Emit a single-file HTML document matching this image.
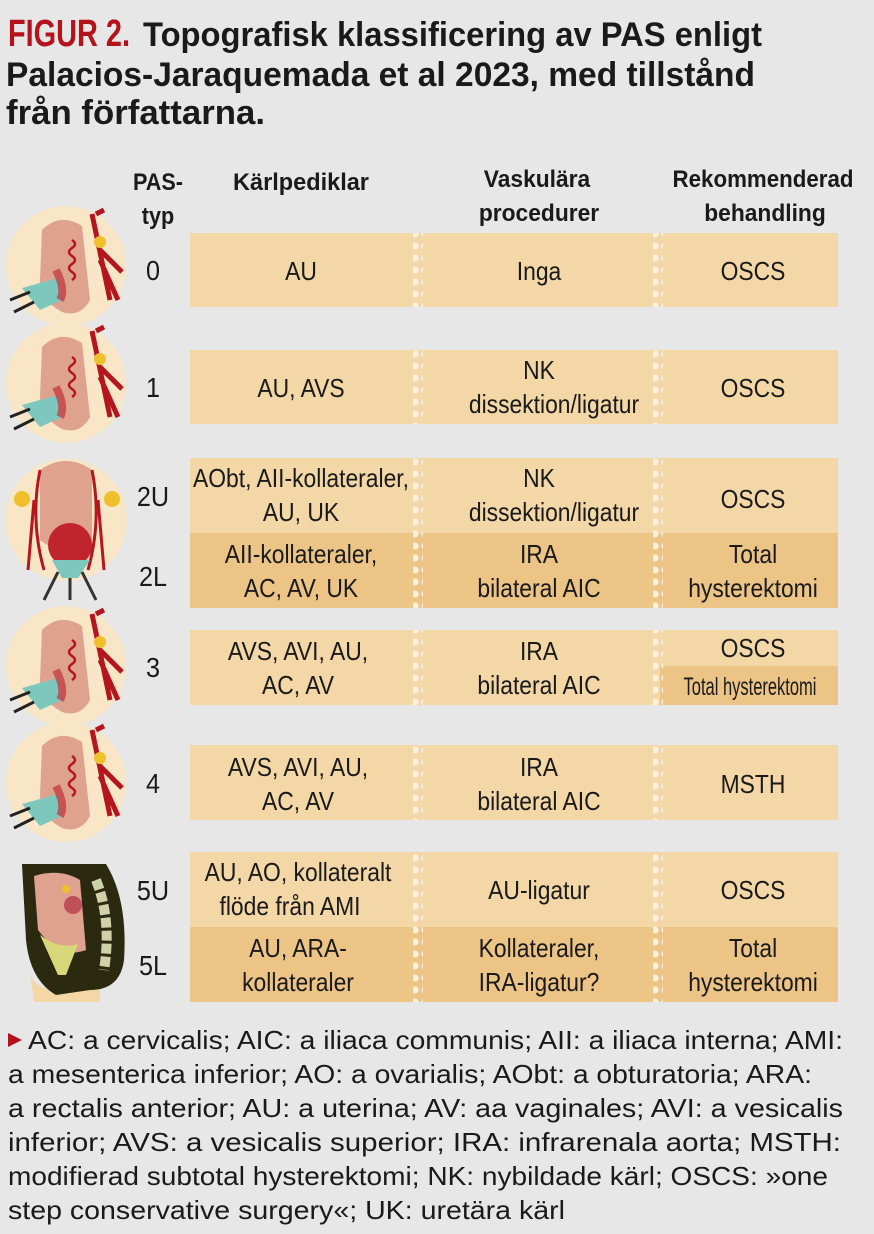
<!DOCTYPE html>
<html><head><meta charset="utf-8"><style>
html,body{margin:0;padding:0;background:#e7e7e7}
svg{display:block}
text{font-family:"Liberation Sans",sans-serif;fill:#1a1a1a}
.c{font-size:26px;text-anchor:middle}
.h{font-size:24px;font-weight:bold;text-anchor:middle}
.f{font-size:26px}
</style></head><body>
<svg width="874" height="1234" viewBox="0 0 874 1234" xmlns="http://www.w3.org/2000/svg">
<rect width="874" height="1234" fill="#e7e7e7"/>
<text x="8" y="46" font-size="38" font-weight="bold" style="fill:#b5121b" textLength="122" lengthAdjust="spacingAndGlyphs">FIGUR 2.</text>
<text x="143" y="46" font-size="34" font-weight="bold" textLength="619" lengthAdjust="spacingAndGlyphs">Topografisk klassificering av PAS enligt</text>
<text x="6" y="86" font-size="34" font-weight="bold" textLength="749" lengthAdjust="spacingAndGlyphs">Palacios-Jaraquemada et al 2023, med tillstånd</text>
<text x="6" y="124" font-size="34" font-weight="bold" textLength="259" lengthAdjust="spacingAndGlyphs">från författarna.</text>
<g transform="translate(158 190) scale(.9 1)"><text class="h">PAS-</text></g>
<g transform="translate(158 224) scale(.9 1)"><text class="h">typ</text></g>
<g transform="translate(301 190) scale(.98 1)"><text class="h">Kärlpediklar</text></g>
<g transform="translate(537 187) scale(.95 1)"><text class="h">Vaskulära</text></g>
<g transform="translate(539 221) scale(.95 1)"><text class="h">procedurer</text></g>
<g transform="translate(763 187) scale(.93 1)"><text class="h">Rekommenderad</text></g>
<g transform="translate(765 221) scale(.95 1)"><text class="h">behandling</text></g>
<g>
<rect x="190" y="233" width="648" height="74" fill="#f3d7a6"/>
<rect x="190" y="350" width="648" height="74" fill="#f3d7a6"/>
<rect x="190" y="458" width="648" height="75" fill="#f3d7a6"/>
<rect x="190" y="533" width="648" height="75" fill="#ecc486"/>
<rect x="190" y="630" width="648" height="75" fill="#f3d7a6"/>
<rect x="660" y="666" width="178" height="39" fill="#ecc486"/>
<rect x="190" y="745" width="648" height="75" fill="#f3d7a6"/>
<rect x="190" y="852" width="648" height="75" fill="#f3d7a6"/>
<rect x="190" y="927" width="648" height="75" fill="#ecc486"/>
</g>
<defs><pattern id="dots" width="10" height="12" patternUnits="userSpaceOnUse"><circle cx="5" cy="6" r="3.6" fill="#fbf1e0"/></pattern></defs>
<g fill="url(#dots)">
<rect x="413" y="233" width="10" height="74"/><rect x="653" y="233" width="10" height="74"/>
<rect x="413" y="350" width="10" height="74"/><rect x="653" y="350" width="10" height="74"/>
<rect x="413" y="458" width="10" height="150"/><rect x="653" y="458" width="10" height="150"/>
<rect x="413" y="630" width="10" height="75"/><rect x="653" y="630" width="10" height="75"/>
<rect x="413" y="745" width="10" height="75"/><rect x="653" y="745" width="10" height="75"/>
<rect x="413" y="852" width="10" height="150"/><rect x="653" y="852" width="10" height="150"/>
</g>
<g transform="translate(153 280) scale(.9 1)"><text class="c" style="font-size:28px">0</text></g>
<g transform="translate(153 397) scale(.9 1)"><text class="c" style="font-size:28px">1</text></g>
<g transform="translate(153 506) scale(.9 1)"><text class="c" style="font-size:28px">2U</text></g>
<g transform="translate(153 586) scale(.9 1)"><text class="c" style="font-size:28px">2L</text></g>
<g transform="translate(153 677) scale(.9 1)"><text class="c" style="font-size:28px">3</text></g>
<g transform="translate(153 793) scale(.9 1)"><text class="c" style="font-size:28px">4</text></g>
<g transform="translate(153 900) scale(.9 1)"><text class="c" style="font-size:28px">5U</text></g>
<g transform="translate(153 975) scale(.9 1)"><text class="c" style="font-size:28px">5L</text></g>
<g transform="translate(301 280) scale(.88 1)"><text class="c">AU</text></g>
<g transform="translate(539 280) scale(.88 1)"><text class="c">Inga</text></g>
<g transform="translate(753 280) scale(.88 1)"><text class="c">OSCS</text></g>
<g transform="translate(301 397) scale(.88 1)"><text class="c">AU, AVS</text></g>
<g transform="translate(539 379) scale(.88 1)"><text class="c">NK</text></g>
<g transform="translate(554 413) scale(.88 1)"><text class="c">dissektion/ligatur</text></g>
<g transform="translate(753 397) scale(.88 1)"><text class="c">OSCS</text></g>
<g transform="translate(301 487) scale(.88 1)"><text class="c">AObt, AII-kollateraler,</text></g>
<g transform="translate(301 521) scale(.88 1)"><text class="c">AU, UK</text></g>
<g transform="translate(539 487) scale(.88 1)"><text class="c">NK</text></g>
<g transform="translate(554 521) scale(.88 1)"><text class="c">dissektion/ligatur</text></g>
<g transform="translate(753 508) scale(.88 1)"><text class="c">OSCS</text></g>
<g transform="translate(301 563) scale(.88 1)"><text class="c">AII-kollateraler,</text></g>
<g transform="translate(301 597) scale(.88 1)"><text class="c">AC, AV, UK</text></g>
<g transform="translate(539 563) scale(.88 1)"><text class="c">IRA</text></g>
<g transform="translate(539 597) scale(.88 1)"><text class="c">bilateral AIC</text></g>
<g transform="translate(753 563) scale(.88 1)"><text class="c">Total</text></g>
<g transform="translate(753 597) scale(.88 1)"><text class="c">hysterektomi</text></g>
<g transform="translate(298 660) scale(.88 1)"><text class="c">AVS, AVI, AU,</text></g>
<g transform="translate(298 694) scale(.88 1)"><text class="c">AC, AV</text></g>
<g transform="translate(539 660) scale(.88 1)"><text class="c">IRA</text></g>
<g transform="translate(539 694) scale(.88 1)"><text class="c">bilateral AIC</text></g>
<g transform="translate(753 657) scale(.88 1)"><text class="c">OSCS</text></g>
<g transform="translate(750 695) scale(.66 1)"><text class="c" style="font-size:25px">Total hysterektomi</text></g>
<g transform="translate(298 776) scale(.88 1)"><text class="c">AVS, AVI, AU,</text></g>
<g transform="translate(298 810) scale(.88 1)"><text class="c">AC, AV</text></g>
<g transform="translate(539 776) scale(.88 1)"><text class="c">IRA</text></g>
<g transform="translate(539 810) scale(.88 1)"><text class="c">bilateral AIC</text></g>
<g transform="translate(753 793) scale(.88 1)"><text class="c">MSTH</text></g>
<g transform="translate(298 881) scale(.88 1)"><text class="c">AU, AO, kollateralt</text></g>
<g transform="translate(290 915) scale(.88 1)"><text class="c">flöde från AMI</text></g>
<g transform="translate(539 899) scale(.88 1)"><text class="c">AU-ligatur</text></g>
<g transform="translate(753 899) scale(.88 1)"><text class="c">OSCS</text></g>
<g transform="translate(298 957) scale(.88 1)"><text class="c">AU, ARA-</text></g>
<g transform="translate(298 991) scale(.88 1)"><text class="c">kollateraler</text></g>
<g transform="translate(539 957) scale(.88 1)"><text class="c">Kollateraler,</text></g>
<g transform="translate(539 991) scale(.88 1)"><text class="c">IRA-ligatur?</text></g>
<g transform="translate(753 957) scale(.88 1)"><text class="c">Total</text></g>
<g transform="translate(753 991) scale(.88 1)"><text class="c">hysterektomi</text></g>

<g id="ill">
<circle cx="66" cy="266" r="60" fill="#f8e6c6"/>
<path d="M42 230 Q60 212 82 226 L90 300 Q80 318 62 312 Q40 300 40 280 Z" fill="#dea28e"/>
<path d="M92 214 L110 300 M96 214 L104 210 M100 250 L122 272 M100 260 L118 300" stroke="#b5161e" stroke-width="5" fill="none"/>
<path d="M72 240 q6 4 0 8 q-6 4 0 8 q6 4 0 8 q-6 4 0 8 q6 4 0 8" stroke="#b5161e" stroke-width="2.5" fill="none"/>
<circle cx="100" cy="242" r="6" fill="#f0c02c"/>
<path d="M22 288 L58 278 L62 300 L40 310 Z" fill="#7ec7bd"/>
<path d="M10 300 L30 292 M14 312 L34 302" stroke="#222" stroke-width="3"/>
<path d="M56 270 Q66 290 60 300" stroke="#c0323a" stroke-width="8" fill="none" opacity=".7"/>
</g>
<use href="#ill" transform="translate(0 117)"/>
<use href="#ill" transform="translate(0 400)"/>
<use href="#ill" transform="translate(0 516)"/>
<circle cx="66" cy="520" r="61" fill="#f8e6c6"/>
<path d="M40 470 Q66 452 92 470 L92 540 Q66 560 40 540 Z" fill="#dea28e"/>
<path d="M40 470 Q30 520 44 570 M92 470 Q102 520 88 570 M34 500 L28 570 M98 500 L104 570" stroke="#b5161e" stroke-width="3" fill="none"/>
<circle cx="22" cy="499" r="8" fill="#f0c02c"/><circle cx="112" cy="499" r="8" fill="#f0c02c"/>
<circle cx="70" cy="545" r="22" fill="#c0242c"/>
<path d="M52 560 L90 560 L78 578 L62 578 Z" fill="#7ec7bd"/>
<path d="M58 572 L44 600 M70 578 L70 600 M82 572 L96 600" stroke="#333" stroke-width="3"/>
<path d="M30 975 Q40 1000 100 985 L100 1002 L34 1002 Z" fill="#f3d7a6"/>
<path d="M22 864 L106 864 Q128 900 124 960 Q120 990 90 990 L56 995 Q30 980 26 940 Z" fill="#2b2a10"/>
<path d="M34 876 Q60 868 80 880 L86 950 Q60 960 38 930 Z" fill="#dea28e"/>
<path d="M40 935 Q60 950 78 944 L66 975 L58 975 Z" fill="#d8d87a"/>
<path d="M96 880 Q112 920 104 970" stroke="#cfd1a8" stroke-width="10" fill="none" stroke-dasharray="10 3"/>
<circle cx="73" cy="905" r="9" fill="#c0505a"/>
<circle cx="66" cy="889" r="4" fill="#f0c02c"/>
<path d="M8 1033 L22 1040 L8 1047 Z" fill="#b5121b"/>
<text class="f" x="28" y="1049" textLength="815" lengthAdjust="spacingAndGlyphs">AC: a cervicalis; AIC: a iliaca communis; AII: a iliaca interna; AMI:</text>
<text class="f" x="8" y="1083" textLength="804" lengthAdjust="spacingAndGlyphs">a mesenterica inferior; AO: a ovarialis; AObt: a obturatoria; ARA:</text>
<text class="f" x="8" y="1117" textLength="835" lengthAdjust="spacingAndGlyphs">a rectalis anterior; AU: a uterina; AV: aa vaginales; AVI: a vesicalis</text>
<text class="f" x="8" y="1151" textLength="833" lengthAdjust="spacingAndGlyphs">inferior; AVS: a vesicalis superior; IRA: infrarenala aorta; MSTH:</text>
<text class="f" x="8" y="1185" textLength="820" lengthAdjust="spacingAndGlyphs">modifierad subtotal hysterektomi; NK: nybildade kärl; OSCS: »one</text>
<text class="f" x="8" y="1219" textLength="557" lengthAdjust="spacingAndGlyphs">step conservative surgery«; UK: uretära kärl</text>
</svg>
</body></html>
